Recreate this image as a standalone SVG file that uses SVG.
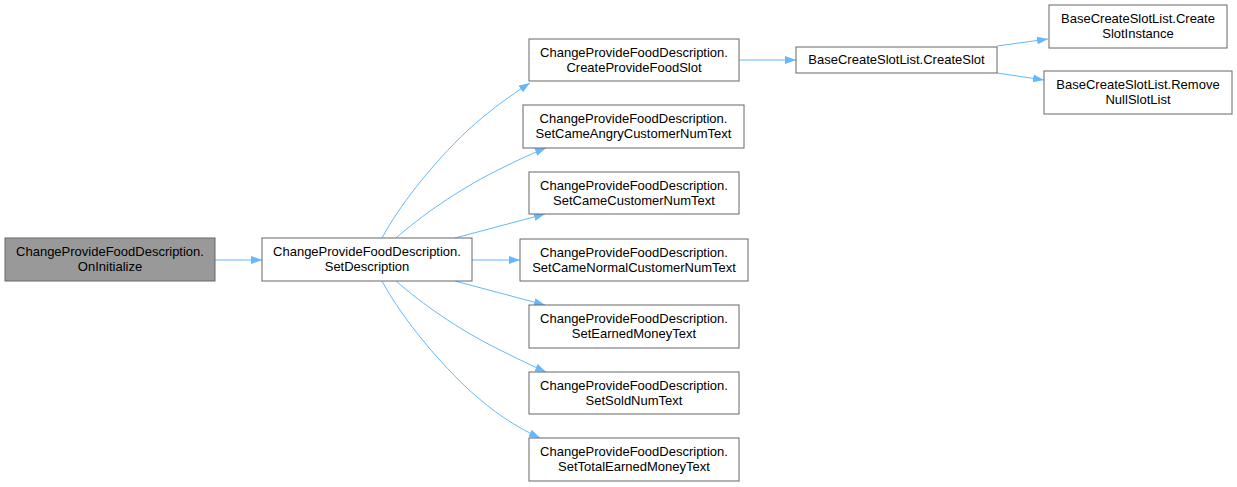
<svg xmlns="http://www.w3.org/2000/svg" width="1237" height="487" viewBox="0 0 1237 487">
<style>
.node rect{fill:#ffffff;stroke:#666666;stroke-width:1}
.node.cur rect{fill:#999999}
.node text{font-family:"Liberation Sans",Arial,sans-serif;font-size:13px;fill:#000000;text-anchor:middle}
.edges path{fill:none;stroke:#63b8ff;stroke-width:1}
</style>
<defs>
<marker id="ah" markerUnits="userSpaceOnUse" markerWidth="11" markerHeight="8" refX="11" refY="4" orient="auto">
<path d="M0,0 L11,4 L0,8 z" fill="#63b8ff"/>
</marker>
</defs>
<rect width="1237" height="487" fill="#ffffff"/>
<g class="edges">
<path d="M215,260 L262,260" marker-end="url(#ah)"/>
<path d="M382,238 C398,208 430,166 468,130 C488,112 508,97 530,83" marker-end="url(#ah)"/>
<path d="M396,238 C421,216 458,190 496,171 C512,163 528,155 546,148" marker-end="url(#ah)"/>
<path d="M455,238 C485,230 515,222 545,214" marker-end="url(#ah)"/>
<path d="M472,260 L520,260" marker-end="url(#ah)"/>
<path d="M455,281 C485,289 515,297 545,305" marker-end="url(#ah)"/>
<path d="M396,281 C421,303 458,329 496,348 C512,356 528,364 546,372" marker-end="url(#ah)"/>
<path d="M382,281 C398,311 430,353 468,389 C488,407 508,423 540,438" marker-end="url(#ah)"/>
<path d="M739,60 L796,60" marker-end="url(#ah)"/>
<path d="M997,46 L1048,39" marker-end="url(#ah)"/>
<path d="M997,73 L1044,80" marker-end="url(#ah)"/>
</g>
<g id="n_oninit" class="node cur">
<rect x="5" y="238" width="210" height="43"/>
<text x="110" y="256">ChangeProvideFoodDescription.</text>
<text x="110" y="271">OnInitialize</text>
</g>
<g id="n_setdesc" class="node">
<rect x="262" y="238" width="210" height="43"/>
<text x="367" y="256">ChangeProvideFoodDescription.</text>
<text x="367" y="271">SetDescription</text>
</g>
<g id="n_createslotfood" class="node">
<rect x="529" y="39" width="210" height="42"/>
<text x="634" y="57">ChangeProvideFoodDescription.</text>
<text x="634" y="72">CreateProvideFoodSlot</text>
</g>
<g id="n_angry" class="node">
<rect x="523" y="105" width="221" height="43"/>
<text x="633.5" y="123">ChangeProvideFoodDescription.</text>
<text x="633.5" y="138">SetCameAngryCustomerNumText</text>
</g>
<g id="n_came" class="node">
<rect x="529" y="172" width="210" height="42"/>
<text x="634" y="190">ChangeProvideFoodDescription.</text>
<text x="634" y="205">SetCameCustomerNumText</text>
</g>
<g id="n_normal" class="node">
<rect x="520" y="239" width="228" height="42"/>
<text x="634" y="257">ChangeProvideFoodDescription.</text>
<text x="634" y="272">SetCameNormalCustomerNumText</text>
</g>
<g id="n_earned" class="node">
<rect x="529" y="305" width="210" height="43"/>
<text x="634" y="323">ChangeProvideFoodDescription.</text>
<text x="634" y="338">SetEarnedMoneyText</text>
</g>
<g id="n_sold" class="node">
<rect x="529" y="372" width="210" height="42"/>
<text x="634" y="390">ChangeProvideFoodDescription.</text>
<text x="634" y="405">SetSoldNumText</text>
</g>
<g id="n_total" class="node">
<rect x="529" y="438" width="210" height="43"/>
<text x="634" y="456">ChangeProvideFoodDescription.</text>
<text x="634" y="471">SetTotalEarnedMoneyText</text>
</g>
<g id="n_createslot" class="node">
<rect x="796" y="47" width="201" height="26"/>
<text x="896.5" y="64">BaseCreateSlotList.CreateSlot</text>
</g>
<g id="n_instance" class="node">
<rect x="1049" y="5" width="178" height="43"/>
<text x="1138" y="23">BaseCreateSlotList.Create</text>
<text x="1138" y="38">SlotInstance</text>
</g>
<g id="n_remove" class="node">
<rect x="1044" y="71" width="188" height="43"/>
<text x="1138" y="89">BaseCreateSlotList.Remove</text>
<text x="1138" y="104">NullSlotList</text>
</g>
</svg>
